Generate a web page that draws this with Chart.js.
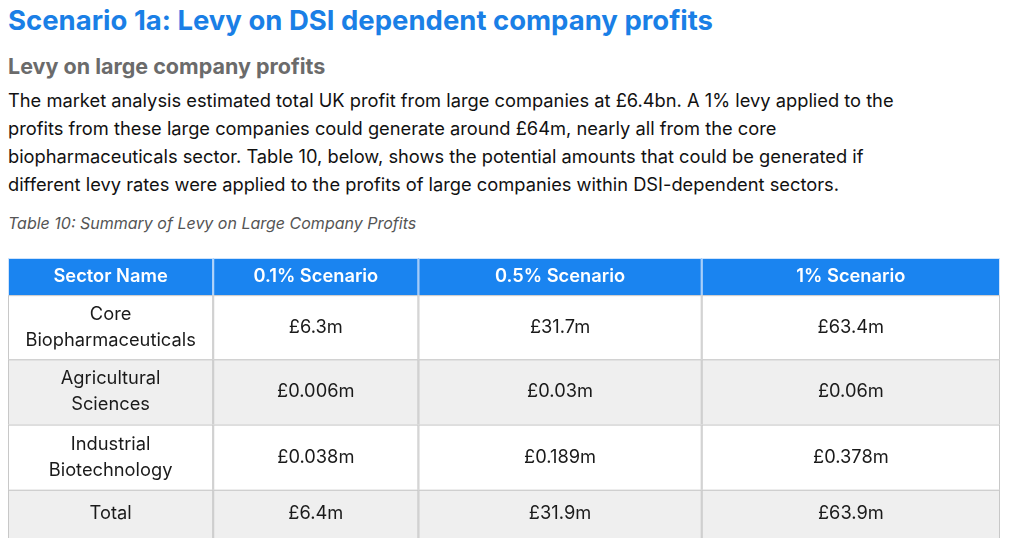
<!DOCTYPE html>
<html>
<head>
<meta charset="utf-8">
<script src="https://cdn.jsdelivr.net/npm/chart.js@4"></script>
<style>
  body { margin:0; width:1017px; height:548px; background:#fff; font-family:Inter, "Noto Sans", sans-serif; position:relative; overflow:hidden; }
  h1 { position:absolute; left:8px; top:3px; margin:0; font-size:27.5px; font-weight:700; color:#1a7fe6; white-space:nowrap; }
  h2 { position:absolute; left:8px; top:53px; margin:0; font-size:21.5px; font-weight:700; color:#6b6b6b; }
  p { position:absolute; left:8px; top:86px; margin:0; width:1005px; font-size:18.3px; line-height:28px; color:#111; white-space:nowrap; }
  .cap { position:absolute; left:8px; top:213px; font-size:16px; font-style:italic; color:#555; }
  #wrap { position:absolute; left:8px; top:258px; width:992px; height:280px; }
</style>
</head>
<body>
<h1>Scenario 1a: Levy on DSI dependent company profits</h1>
<h2>Levy on large company profits</h2>
<p>The market analysis estimated total UK profit from large companies at £6.4bn. A 1% levy applied to the<br>profits from these large companies could generate around £64m, nearly all from the core<br>biopharmaceuticals sector. Table 10, below, shows the potential amounts that could be generated if<br>different levy rates were applied to the profits of large companies within DSI-dependent sectors.</p>
<div class="cap">Table 10: Summary of Levy on Large Company Profits</div>
<div id="wrap"><canvas id="tableChart"></canvas></div>
<script>
// table contents
const headers = ['Sector Name', '0.1% Scenario', '0.5% Scenario', '1% Scenario'];
const sectors = [['Core', 'Biopharmaceuticals'], ['Agricultural', 'Sciences'], ['Industrial', 'Biotechnology'], ['Total']];
const scen01 = ['£6.3m', '£0.006m', '£0.038m', '£6.4m'];
const scen05 = ['£31.7m', '£0.03m', '£0.189m', '£31.9m'];
const scen1 = ['£63.4m', '£0.06m', '£0.378m', '£63.9m'];

// layout of the grid, in scale units
const colEdges = [0, 205, 410, 693, 991];
const rowEdges = [0, 37, 101, 166, 231, 279];

const tablePlugin = {
  id: 'tablePlugin',
  afterDraw(chart) {
    const ctx = chart.ctx;
    const xs = chart.scales.x, ys = chart.scales.y;
    const X = v => xs.getPixelForValue(v), Y = v => ys.getPixelForValue(v);
    const rows = [headers].concat(sectors.map((s, i) => [s, scen01[i], scen05[i], scen1[i]]));
    ctx.save();
    ctx.textAlign = 'center';
    ctx.textBaseline = 'middle';
    rows.forEach((row, r) => {
      const y0 = Y(rowEdges[r]), y1 = Y(rowEdges[r + 1]);
      ctx.fillStyle = r === 0 ? '#1a84f0' : (r % 2 === 0 ? '#efefef' : '#ffffff');
      ctx.fillRect(X(0), y0, X(991) - X(0), y1 - y0);
      row.forEach((cell, c) => {
        const x0 = X(colEdges[c]), x1 = X(colEdges[c + 1]);
        ctx.strokeStyle = r === 0 ? '#cfe3fb' : '#c8c8c8';
        ctx.lineWidth = 1;
        ctx.strokeRect(x0 + 0.5, y0 + 0.5, x1 - x0 - 1, y1 - y0);
        const lines = Array.isArray(cell) ? cell : [cell];
        ctx.fillStyle = r === 0 ? '#ffffff' : '#1a1a1a';
        ctx.font = (r === 0 ? '600 ' : '400 ') + '18.3px Inter, "Noto Sans", sans-serif';
        const cy = (y0 + y1) / 2;
        lines.forEach((t, k) => {
          ctx.fillText(t, (x0 + x1) / 2, cy + (k - (lines.length - 1) / 2) * 26);
        });
      });
    });
    ctx.restore();
  }
};

new Chart(document.getElementById('tableChart').getContext('2d'), {
  type: 'scatter',
  data: { datasets: [] },
  options: {
    responsive: true,
    maintainAspectRatio: false,
    animation: false,
    layout: { padding: 0 },
    plugins: { legend: { display: false }, tooltip: { enabled: false } },
    scales: {
      x: { type: 'linear', min: 0, max: 991, display: false },
      y: { type: 'linear', min: 0, max: 279, reverse: true, display: false }
    }
  },
  plugins: [tablePlugin]
});
</script>
</body>
</html>
